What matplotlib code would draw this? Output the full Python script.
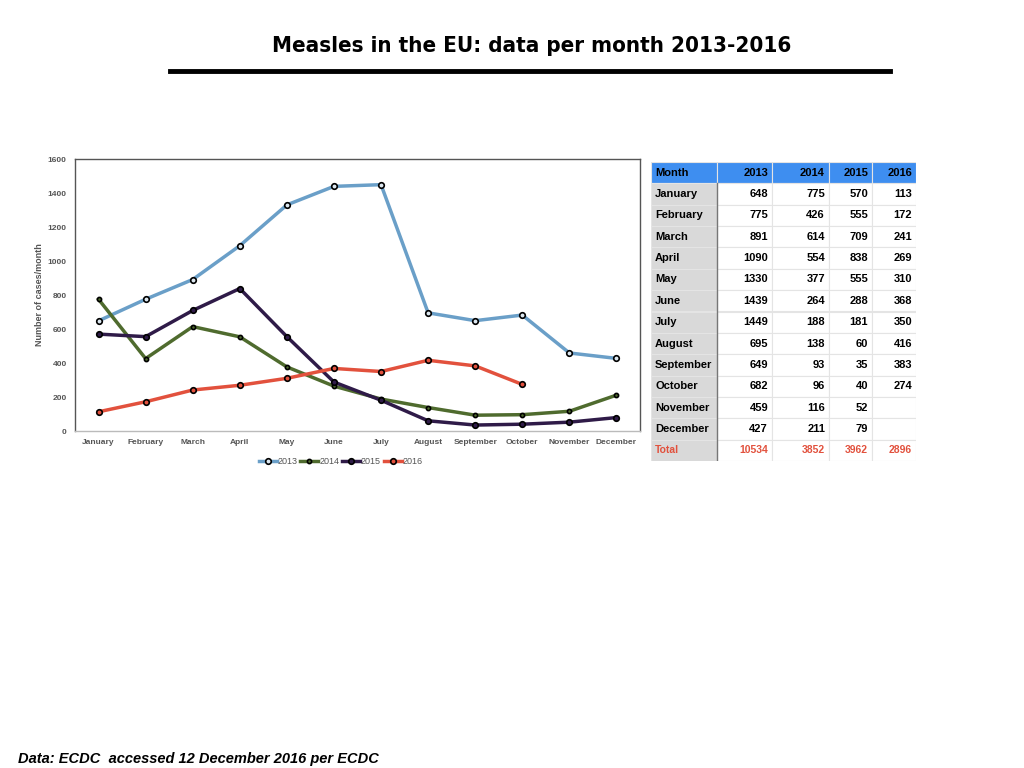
import matplotlib.pyplot as plt
from matplotlib.patches import Rectangle

months = ["January", "February", "March", "April", "May", "June", "July",
          "August", "September", "October", "November", "December"]
years = ["2013", "2014", "2015", "2016"]
cases_2013 = [648, 775, 891, 1090, 1330, 1439, 1449, 695, 649, 682, 459, 427]
cases_2014 = [775, 426, 614, 554, 377, 264, 188, 138, 93, 96, 116, 211]
cases_2015 = [570, 555, 709, 838, 555, 288, 181, 60, 35, 40, 52, 79]
cases_2016 = [113, 172, 241, 269, 310, 368, 350, 416, 383, 274]
totals = [10534, 3852, 3962, 2896]

colors = ["#6a9fc8", "#4f6b2e", "#2f1b48", "#e2513d"]
series = [cases_2013, cases_2014, cases_2015, cases_2016]

plt.rcParams['font.family'] = ['Liberation Sans', 'DejaVu Sans']

fig = plt.figure(figsize=(10.24, 7.68), dpi=100)
W, H = 1024, 768

def fig_rect(x0, y0, x1, y1):
    return [x0 / W, 1 - y1 / H, (x1 - x0) / W, (y1 - y0) / H]

# title and rule
fig.text(532 / W, 1 - 46 / H, "Measles in the EU: data per month 2013-2016",
         ha="center", va="center", fontsize=16, fontweight="bold",
         family=["DejaVu Sans"], fontstretch="condensed")
fig.add_artist(plt.Line2D([170 / W, 890 / W], [1 - 71 / H, 1 - 71 / H],
                          color="black", lw=3.5))

# line chart
ax = fig.add_axes(fig_rect(75, 159, 640, 431))
x = list(range(len(months)))
marker_sizes = [4, 3, 4, 4]
face = ["#dde8f0", "#4f6b2e", "#2f1b48", "#e2513d"]
for yr, vals, c, ms, fc in zip(years, series, colors, marker_sizes, face):
    ax.plot(x[:len(vals)], vals, color=c, lw=2.5, marker="o", ms=ms,
            mfc=fc, mec="black", mew=1.2, label=yr)
ax.set_xlim(-0.5, 11.5)
ax.set_ylim(0, 1600)
ax.set_yticks(range(0, 1601, 200))
ax.set_xticks(x)
ax.set_xticklabels(months)
ax.tick_params(axis="both", labelsize=6, labelcolor="#555555", length=0, pad=6)
for lab in ax.get_xticklabels() + ax.get_yticklabels():
    lab.set_fontweight("bold")
ax.set_ylabel("Number of cases/month", fontsize=6.5, color="#555555",
              fontweight="bold", labelpad=3)
for s in ax.spines.values():
    s.set_color("#555555")
    s.set_linewidth(1)
ax.spines["bottom"].set_color("#bbbbbb")
ax.legend(loc="upper center", bbox_to_anchor=(0.47, -0.065), ncol=4,
          frameon=False, fontsize=6.5, handlelength=2.0, handletextpad=0.1,
          columnspacing=0.3, labelcolor="#555555")

# data table
tx = [651, 717, 772, 829, 872, 916]
ty0, ty1 = 162, 461
nrows = 14
rh = (ty1 - ty0) / nrows
tab = fig.add_axes(fig_rect(tx[0], ty0, tx[-1], ty1))
tab.set_xlim(tx[0], tx[-1])
tab.set_ylim(ty1, ty0)
tab.axis("off")

header = ["Month"] + years
rows = [header]
for i, m in enumerate(months):
    row = [m]
    for vals in series:
        row.append(str(vals[i]) if i < len(vals) else "")
    rows.append(row)
rows.append(["Total"] + [str(t) for t in totals])

for r, row in enumerate(rows):
    y0 = ty0 + r * rh
    for cidx, val in enumerate(row):
        x0, x1 = tx[cidx], tx[cidx + 1]
        if r == 0:
            fc = "#3e8ef0"
        elif cidx == 0:
            fc = "#d9d9d9"
        else:
            fc = "white"
        tab.add_patch(Rectangle((x0, y0), x1 - x0, rh, facecolor=fc,
                                edgecolor="#e4e4e4", lw=0.8))
        color = "#e2513d" if r == nrows - 1 else "black"
        fs = 7.5 if r == nrows - 1 else 8
        if cidx == 0:
            tab.text(x0 + 4, y0 + rh / 2, val, ha="left", va="center",
                     fontsize=fs, fontweight="bold", color=color)
        else:
            tab.text(x1 - 4, y0 + rh / 2, val, ha="right", va="center",
                     fontsize=fs, fontweight="bold", color=color)
tab.plot([tx[1], tx[1]], [ty0 + rh, ty1], color="#777777", lw=1)

# footer
fig.text(18 / W, 1 - 759 / H, "Data: ECDC  accessed 12 December 2016 per ECDC",
         ha="left", va="center", fontsize=10.5, fontweight="bold",
         fontstyle="italic")

fig.savefig("out.png", dpi=100)
